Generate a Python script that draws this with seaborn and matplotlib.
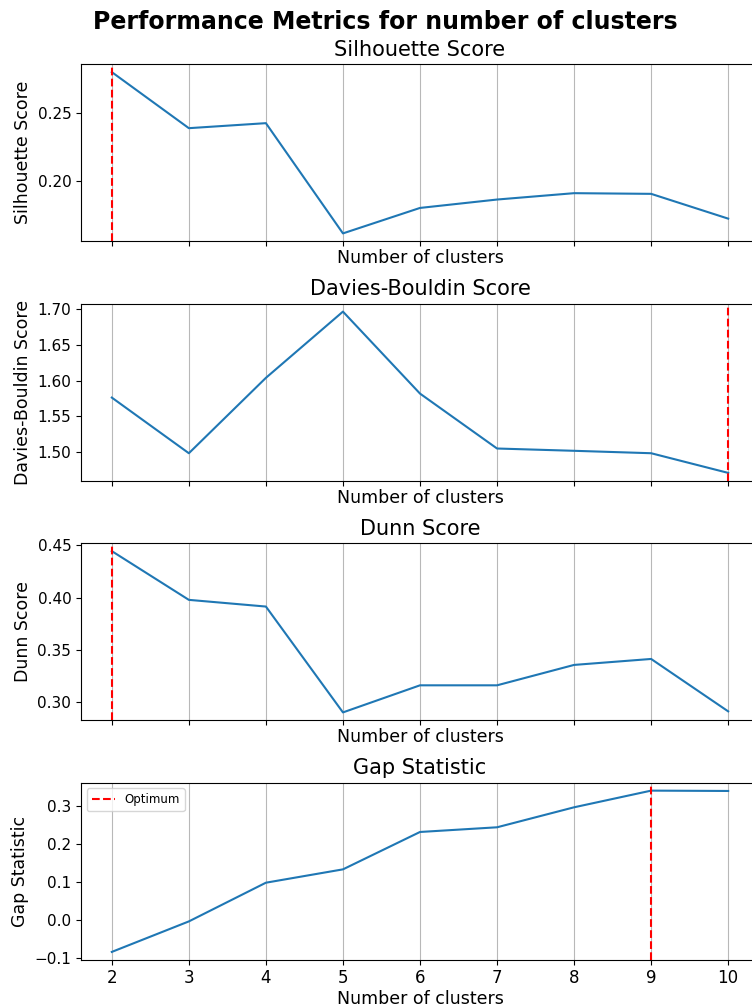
import matplotlib
matplotlib.use("Agg")
import matplotlib.pyplot as plt
from matplotlib.ticker import MultipleLocator
import seaborn as sns
import pandas as pd

n_clusters = [2, 3, 4, 5, 6, 7, 8, 9, 10]
silhouette = [0.2805, 0.2391, 0.2428, 0.1614, 0.1802, 0.1864, 0.1911, 0.1906, 0.1723]
davies_bouldin = [1.5764, 1.4986, 1.6040, 1.6966, 1.5820, 1.5052, 1.5020, 1.4986, 1.4711]
dunn = [0.4446, 0.3980, 0.3916, 0.2904, 0.3163, 0.3163, 0.3358, 0.3415, 0.2914]
gap = [-0.0852, -0.0045, 0.0979, 0.1332, 0.2321, 0.2445, 0.2974, 0.3415, 0.3406]

titles = ["Silhouette Score", "Davies-Bouldin Score", "Dunn Score", "Gap Statistic"]
optimum = [2, 10, 2, 9]
series = [silhouette, davies_bouldin, dunn, gap]

fig, axes = plt.subplots(4, 1, figsize=(7.52, 10.07), dpi=100, sharex=True)
fig.subplots_adjust(left=0.1077, right=1.0093, top=0.9364, bottom=0.0467, hspace=0.35)
fig.suptitle("Performance Metrics for number of clusters", fontsize=17,
             fontweight="bold", x=0.512, y=0.978, va="center")

for i, (ax, vals, title, opt) in enumerate(zip(axes, series, titles, optimum)):
    df = pd.DataFrame({"k": n_clusters, "v": vals})
    sns.lineplot(data=df, x="k", y="v", ax=ax, color="#1f77b4", linewidth=1.5)
    ax.axvline(opt, color="red", linestyle="--", linewidth=1.5,
               label="Optimum" if i == 3 else None)
    ax.set_title(title, fontsize=15)
    ax.set_ylabel(title, fontsize=12.5)
    ax.set_xticks(n_clusters)
    ax.grid(axis="x", color="#b8b8b8", linewidth=0.8)
    ax.set_axisbelow(True)
    ax.tick_params(axis="y", labelsize=11)
    ax.tick_params(axis="x", labelsize=12, pad=3)

axes[0].yaxis.set_major_locator(MultipleLocator(0.05))

for ax in axes:
    ax.xaxis.label.set_visible(True)
    ax.set_xlabel("Number of clusters", fontsize=12.5, labelpad=2)
for ax in axes[:-1]:
    ax.tick_params(axis="x", labelbottom=False)

axes[-1].legend(loc="upper left", fontsize=8.5)
axes[-1].set_xlim(1.6, 10.4)

fig.savefig("out.png", dpi=100)
